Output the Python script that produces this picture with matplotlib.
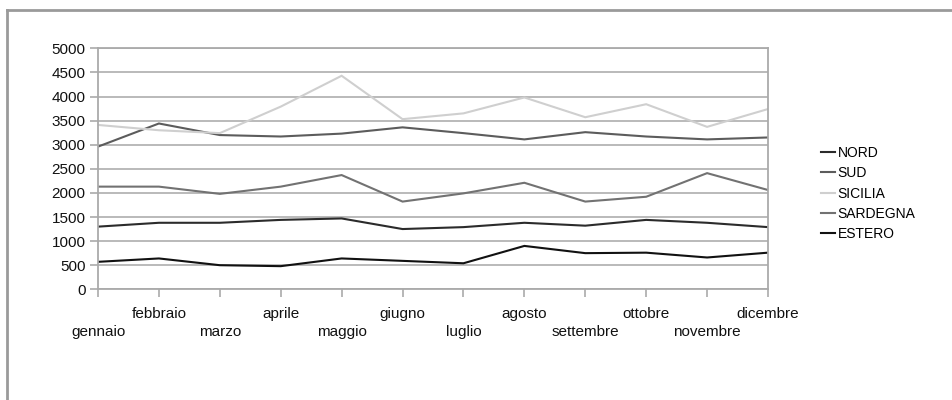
import matplotlib
matplotlib.use("Agg")
import matplotlib.pyplot as plt
from matplotlib.lines import Line2D

plt.rcParams['font.family'] = ['Liberation Sans', 'DejaVu Sans']

mesi = ["gennaio", "febbraio", "marzo", "aprile", "maggio", "giugno",
        "luglio", "agosto", "settembre", "ottobre", "novembre", "dicembre"]

nord = [1300, 1380, 1380, 1440, 1470, 1250, 1290, 1380, 1320, 1440, 1380, 1290]
sud = [2960, 3440, 3200, 3170, 3230, 3360, 3240, 3110, 3260, 3170, 3110, 3150]
sicilia = [3410, 3300, 3240, 3790, 4430, 3530, 3650, 3980, 3570, 3840, 3370, 3740]
sardegna = [2130, 2130, 1980, 2130, 2370, 1820, 1990, 2210, 1820, 1920, 2410, 2060]
estero = [570, 640, 500, 480, 640, 590, 540, 900, 750, 760, 660, 760]

serie = [("NORD", nord, "#2b2b2b"),
         ("SUD", sud, "#5c5c5c"),
         ("SICILIA", sicilia, "#cfcfcf"),
         ("SARDEGNA", sardegna, "#727272"),
         ("ESTERO", estero, "#111111")]

fig = plt.figure(figsize=(9.52, 4.0), dpi=100)
ax = fig.add_axes([98 / 952, 1 - 289.3 / 400, (768 - 98) / 952, (289.3 - 48.3) / 400])

x = list(range(len(mesi)))
for nome, valori, colore in serie:
    ax.plot(x, valori, color=colore, linewidth=1.5, label=nome, solid_joinstyle="miter")

ax.set_xlim(0, len(mesi) - 1)
ax.set_ylim(0, 5000)
ax.set_yticks(range(0, 5001, 500))
ax.yaxis.grid(True, color="#b4b4b4", linewidth=1.3)
ax.set_axisbelow(True)

for s in ax.spines.values():
    s.set_color("#aaaaaa")
    s.set_linewidth(1.3)

etichette = [("\n" + m) if i % 2 == 0 else (m + "\n") for i, m in enumerate(mesi)]
ax.set_xticks(x)
ax.set_xticklabels(etichette, fontsize=11, linespacing=1.3)
ax.tick_params(axis="both", direction="out", length=6, width=1.2, color="#aaaaaa",
               labelsize=11, labelcolor="#111111")
ax.tick_params(axis="x", pad=7)
ax.tick_params(axis="y", pad=3)

fig.legend(loc="upper left", bbox_to_anchor=(821 / 952, 1 - 146 / 400),
           frameon=False, fontsize=10, handlelength=1.0, handletextpad=0.2,
           labelspacing=0.45, borderaxespad=0, borderpad=0)

# outer frame (top and left edges)
fig.add_artist(Line2D([7 / 952, 7 / 952], [0, 1 - 9.5 / 400], transform=fig.transFigure,
                      color="#9a9a9a", linewidth=2.0))
fig.add_artist(Line2D([7 / 952, 1], [1 - 9.5 / 400, 1 - 9.5 / 400], transform=fig.transFigure,
                      color="#9a9a9a", linewidth=2.0))

fig.savefig("out.png", dpi=100)
